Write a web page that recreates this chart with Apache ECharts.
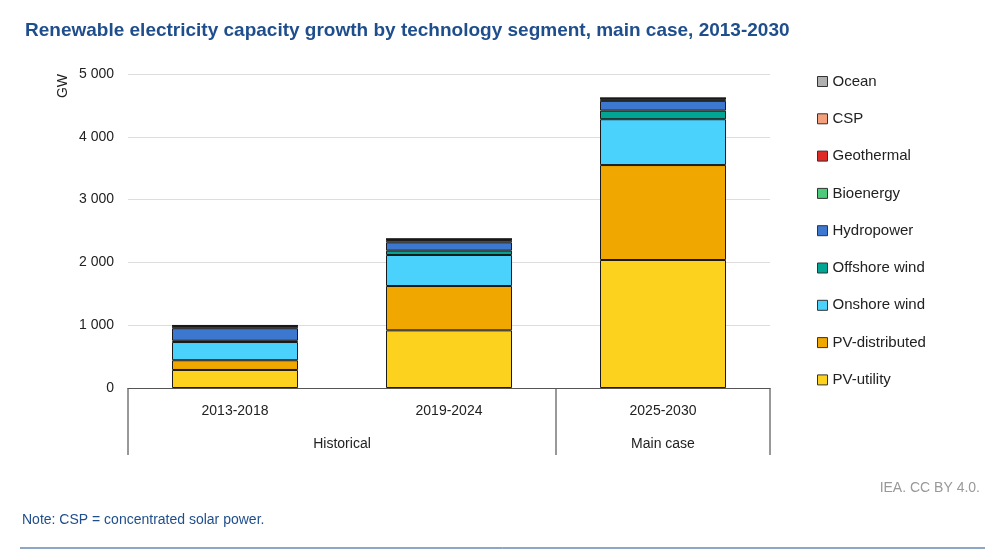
<!DOCTYPE html>
<html>
<head>
<meta charset="utf-8">
<script src="https://cdn.jsdelivr.net/npm/echarts@6/dist/echarts.min.js"></script>
<style>body{margin:0;background:#fff}#c{width:1000px;height:559px}</style>
</head>
<body>
<div id="c"></div>
<script>
var categories = ['2013-2018', '2019-2024', '2025-2030'];
var groups = [{name: 'Historical', from: 0, to: 1}, {name: 'Main case', from: 2, to: 2}];
var pvUtility = [287, 918, 2038];
var pvDistributed = [155, 706, 1512];
var onshoreWind = [290, 494, 730];
var offshoreWind = [20, 69, 137];
var hydropower = [200, 133, 155];
var bioenergy = [35, 37, 25];
var geothermal = [5, 10, 12];
var csp = [3, 4, 6];
var ocean = [1, 1, 1];

var chart = echarts.init(document.getElementById('c'));
function s(name, data, color) {
    return {
        name: name, type: 'bar', stack: 'a', data: data, barWidth: 126,
        itemStyle: {color: color, borderColor: '#1a1a1a', borderWidth: 1}
    };
}
var series = [
    s('PV-utility', pvUtility, '#fcd21f'),
    s('PV-distributed', pvDistributed, '#f0a800'),
    s('Onshore wind', onshoreWind, '#4ad1fc'),
    s('Offshore wind', offshoreWind, '#00a693'),
    s('Hydropower', hydropower, '#3c78d0'),
    s('Bioenergy', bioenergy, '#4ecb7a'),
    s('Geothermal', geothermal, '#e02a25'),
    s('CSP', csp, '#f5a07c'),
    s('Ocean', ocean, '#b0b0b0')
];
chart.setOption({
    animation: false,
    title: {
        text: 'Renewable electricity capacity growth by technology segment, main case, 2013-2030',
        left: 20, top: 16,
        textStyle: {color: '#1f4e8c', fontSize: 19, fontWeight: 'bold', fontFamily: 'Liberation Sans'}
    },
    legend: {
        orient: 'vertical', left: 812, top: 69, itemGap: 22.3,
        itemWidth: 10, itemHeight: 10, icon: 'rect',
        data: series.map(function (x) { return x.name; }).reverse(),
        textStyle: {fontSize: 15, color: '#222', fontFamily: 'Liberation Sans'},
        itemStyle: {borderColor: '#333', borderWidth: 1}
    },
    grid: {left: 128, right: 230, top: 74, bottom: 171},
    xAxis: {
        type: 'category', data: categories,
        axisLine: {lineStyle: {color: '#555'}},
        axisTick: {show: false},
        axisLabel: {fontSize: 14, color: '#222', margin: 16, fontFamily: 'Liberation Sans'}
    },
    yAxis: {
        type: 'value', min: 0, max: 5000, interval: 1000,
        name: 'GW', nameLocation: 'end', nameRotate: 90, nameGap: 0,
        nameTextStyle: {fontSize: 14, color: '#222', padding: [0, 0, 58, 0], align: 'right', verticalAlign: 'bottom'},
        splitLine: {lineStyle: {color: '#ddd'}},
        axisLabel: {fontSize: 14, color: '#222', margin: 14, fontFamily: 'Liberation Sans',
            formatter: function (v) { return String(v).replace(/\B(?=(\d{3})+(?!\d))/g, ' '); }}
    },
    series: series
});

var half = (chart.convertToPixel({xAxisIndex: 0}, 1) - chart.convertToPixel({xAxisIndex: 0}, 0)) / 2;
var y0 = chart.convertToPixel({yAxisIndex: 0}, 0);
var g = [];
var edges = [-1, 1, 2];
edges.forEach(function (i) {
    var x = chart.convertToPixel({xAxisIndex: 0}, i) + half;
    g.push({type: 'line', shape: {x1: x, y1: y0, x2: x, y2: y0 + 67}, style: {stroke: '#333', lineWidth: 1}});
});
groups.forEach(function (gr) {
    var cx = (chart.convertToPixel({xAxisIndex: 0}, gr.from) + chart.convertToPixel({xAxisIndex: 0}, gr.to)) / 2;
    g.push({type: 'text', x: cx, y: y0 + 56, style: {text: gr.name, fill: '#222', font: '14px Liberation Sans', textAlign: 'center', textVerticalAlign: 'middle'}});
});
g.push({type: 'text', right: 20, top: 481, style: {text: 'IEA. CC BY 4.0.', fill: '#999', font: '14px Liberation Sans'}});
g.push({type: 'text', left: 22, top: 513, style: {text: 'Note: CSP = concentrated solar power.', fill: '#1f4e8c', font: '14px Liberation Sans'}});
g.push({type: 'line', shape: {x1: 20, y1: 548, x2: 985, y2: 548}, style: {stroke: '#1f4e8c', lineWidth: 1}});
chart.setOption({graphic: g});
</script>
</body>
</html>
